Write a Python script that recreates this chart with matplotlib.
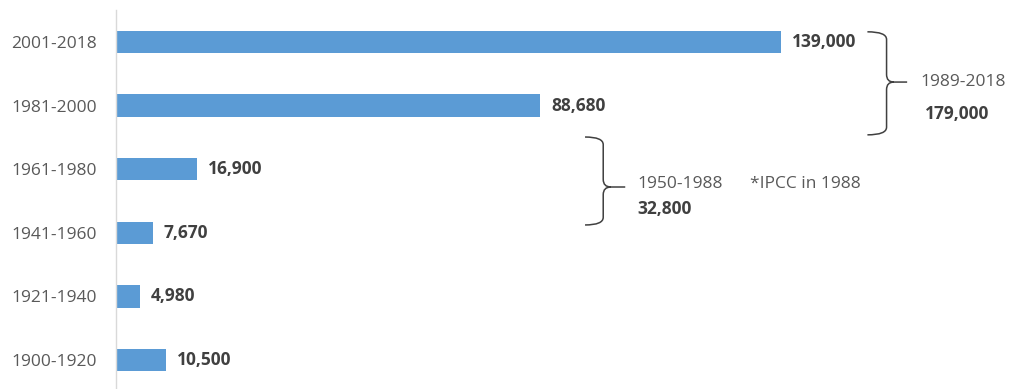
import matplotlib.pyplot as plt
from matplotlib.path import Path
from matplotlib.patches import PathPatch

# data
periods = ["1900-1920", "1921-1940", "1941-1960", "1961-1980", "1981-2000", "2001-2018"]
counts = [10500, 4980, 7670, 16900, 88680, 139000]
labels = ["10,500", "4,980", "7,670", "16,900", "88,680", "139,000"]

group_names = ["1950-1988", "1989-2018"]
group_totals = ["32,800", "179,000"]
note = "*IPCC in 1988"

plt.rcParams['font.family'] = ['Open Sans', 'DejaVu Sans']

fig = plt.figure(figsize=(10.11, 3.89), dpi=100)
# axes starts at the left spine (x=116px), runs to right edge
ax = fig.add_axes([116 / 1011, 0, 1 - 116 / 1011, 379 / 389])

bar_color = "#5B9BD5"
ypos = list(range(len(periods)))
ax.barh(ypos, counts, height=0.35, color=bar_color)

for y, v, lab in zip(ypos, counts, labels):
    ax.annotate(lab, (v, y), xytext=(8, 0), textcoords="offset points",
                va="center", ha="left", fontsize=12.5, fontweight="bold", color="#404040")

ax.set_xlim(0, 187000)
ax.set_ylim(-0.456, 5.503)
ax.set_yticks(ypos)
ax.set_yticklabels(periods, fontsize=12.5, color="#595959")
ax.tick_params(axis="y", length=0, pad=14)
ax.set_xticks([])
for s in ["top", "right", "bottom"]:
    ax.spines[s].set_visible(False)
ax.spines["left"].set_color("#d9d9d9")
ax.spines["left"].set_linewidth(1.0)


def brace(x0, x1, x2, ytop, ymid, ybot, ry):
    xm = x1 + (x2 - x1) * 0.35
    verts = [
        (x0, ytop), (x1, ytop), (x1, ytop - ry),
        (x1, ymid + ry), (x1, ymid), (xm, ymid), (x2, ymid),
        (xm, ymid), (x1, ymid), (x1, ymid - ry),
        (x1, ybot + ry), (x1, ybot), (x0, ybot),
    ]
    codes = [
        Path.MOVETO, Path.CURVE3, Path.CURVE3,
        Path.LINETO, Path.CURVE3, Path.CURVE3, Path.LINETO,
        Path.MOVETO, Path.CURVE3, Path.CURVE3,
        Path.LINETO, Path.CURVE3, Path.CURVE3,
    ]
    ax.add_patch(PathPatch(Path(verts, codes), fill=False, edgecolor="#404040",
                           linewidth=1.1, clip_on=False))


# 1989-2018 brace
brace(157000, 161000, 165300, 5.16, 4.37, 3.54, 0.12)
# 1950-1988 brace
brace(98000, 101800, 106400, 3.506, 2.72, 2.123, 0.12)

ax.text(168000, 4.37, group_names[1], fontsize=12.5, color="#595959", va="center", ha="left")
ax.text(169100, 3.87, group_totals[1], fontsize=12.5, fontweight="bold", color="#404040",
        va="center", ha="left")
ax.text(108900, 2.77, group_names[0], fontsize=12.5, color="#595959", va="center", ha="left")
ax.text(132500, 2.77, note, fontsize=12.5, color="#595959", va="center", ha="left")
ax.text(108900, 2.374, group_totals[0], fontsize=12.5, fontweight="bold", color="#404040",
        va="center", ha="left")

fig.savefig("out.png", dpi=100)
